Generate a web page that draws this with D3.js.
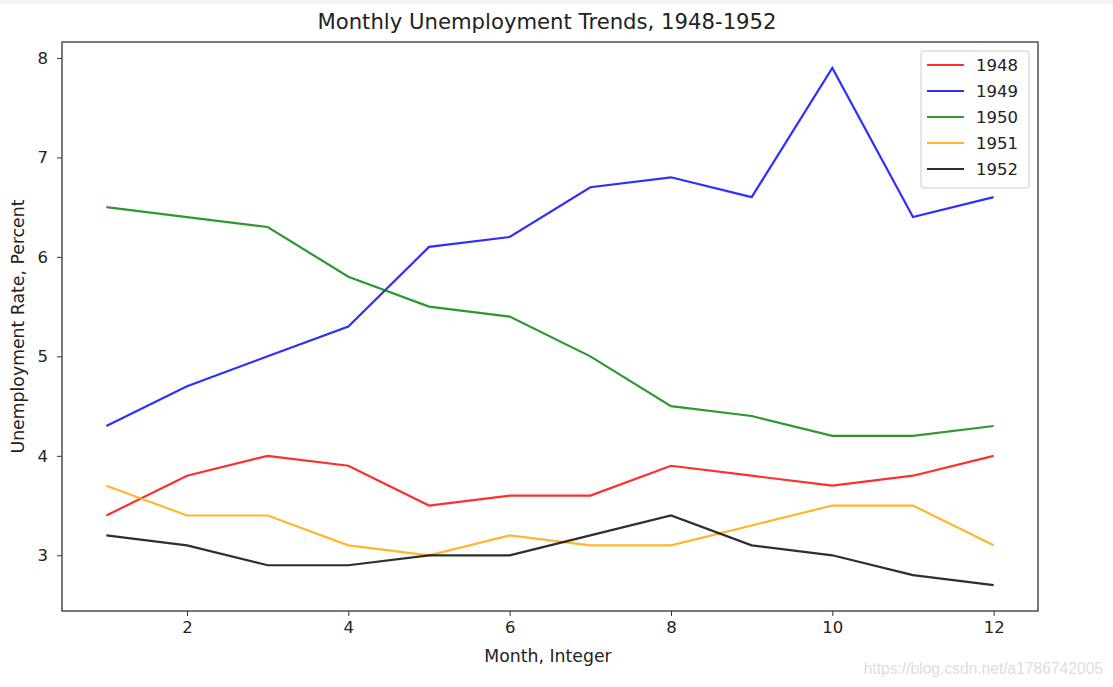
<!DOCTYPE html>
<html>
<head>
<meta charset="utf-8">
<script src="https://cdn.jsdelivr.net/npm/d3@7"></script>
<style>
  body { margin: 0; background: #fff; }
  svg { display: block; font-family: "DejaVu Sans", sans-serif; }
</style>
</head>
<body>
<svg id="chart" width="1113" height="687"></svg>
<script>
const months = [1, 2, 3, 4, 5, 6, 7, 8, 9, 10, 11, 12];
const years = ["1948", "1949", "1950", "1951", "1952"];
const rate1948 = [3.4, 3.8, 4.0, 3.9, 3.5, 3.6, 3.6, 3.9, 3.8, 3.7, 3.8, 4.0];
const rate1949 = [4.3, 4.7, 5.0, 5.3, 6.1, 6.2, 6.7, 6.8, 6.6, 7.9, 6.4, 6.6];
const rate1950 = [6.5, 6.4, 6.3, 5.8, 5.5, 5.4, 5.0, 4.5, 4.4, 4.2, 4.2, 4.3];
const rate1951 = [3.7, 3.4, 3.4, 3.1, 3.0, 3.2, 3.1, 3.1, 3.3, 3.5, 3.5, 3.1];
const rate1952 = [3.2, 3.1, 2.9, 2.9, 3.0, 3.0, 3.2, 3.4, 3.1, 3.0, 2.8, 2.7];
const colors = ["red", "blue", "green", "orange", "black"];
const xTicks = [2, 4, 6, 8, 10, 12];
const yTicks = [3, 4, 5, 6, 7, 8];

const series = [rate1948, rate1949, rate1950, rate1951, rate1952];

const svg = d3.select("#chart");
const pl = 62, pr = 1038, pt = 42, pb = 611;

const x = d3.scaleLinear().domain([0.45, 12.55]).range([pl, pr]);
const y = d3.scaleLinear().domain([2.44, 8.16]).range([pb, pt]);

// faint band at top of screenshot
svg.append("rect").attr("x", 0).attr("y", 0).attr("width", 1113).attr("height", 4).attr("fill", "#f4f4f4");

svg.append("text")
  .attr("x", 547).attr("y", 29)
  .attr("text-anchor", "middle")
  .attr("font-size", 21.2).attr("fill", "#222")
  .text("Monthly Unemployment Trends, 1948-1952");

const xAxis = svg.append("g")
  .attr("transform", `translate(0,${pb})`)
  .call(d3.axisBottom(x).tickValues(xTicks).tickSize(5).tickPadding(5));
const yAxis = svg.append("g")
  .attr("transform", `translate(${pl},0)`)
  .call(d3.axisLeft(y).tickValues(yTicks).tickFormat(d3.format("d")).tickSize(5).tickPadding(9));
[xAxis, yAxis].forEach(g => {
  g.select(".domain").remove();
  g.selectAll("line").attr("stroke", "#333");
  g.selectAll("text").attr("font-size", 16.5).attr("fill", "#222").attr("font-family", "DejaVu Sans");
});

const line = d3.line().x((d, i) => x(months[i])).y(d => y(d));
svg.append("g").selectAll("path").data(series).join("path")
  .attr("d", line)
  .attr("fill", "none")
  .attr("stroke", (d, i) => colors[i])
  .attr("stroke-opacity", 0.82)
  .attr("stroke-width", 2.2);

svg.append("rect")
  .attr("x", pl).attr("y", pt)
  .attr("width", pr - pl).attr("height", pb - pt)
  .attr("fill", "none").attr("stroke", "#333").attr("stroke-width", 1.3);

svg.append("text")
  .attr("x", 548).attr("y", 662)
  .attr("text-anchor", "middle").attr("font-size", 17.3).attr("fill", "#222")
  .text("Month, Integer");

svg.append("text")
  .attr("transform", `translate(24,${(pt + pb) / 2}) rotate(-90)`)
  .attr("text-anchor", "middle").attr("font-size", 17.3).attr("fill", "#222")
  .text("Unemployment Rate, Percent");

// legend
const lg = svg.append("g").attr("transform", "translate(921,51)");
lg.append("rect")
  .attr("width", 108).attr("height", 137).attr("rx", 3)
  .attr("fill", "#fff").attr("fill-opacity", 0.8)
  .attr("stroke", "#ccc");
years.forEach((yr, i) => {
  const yy = 14 + i * 26;
  lg.append("line")
    .attr("x1", 6).attr("x2", 43).attr("y1", yy).attr("y2", yy)
    .attr("stroke", colors[i]).attr("stroke-opacity", 0.82).attr("stroke-width", 2.2);
  lg.append("text")
    .attr("x", 55).attr("y", yy + 6)
    .attr("font-size", 16.5).attr("fill", "#222")
    .text(yr);
});

svg.append("text")
  .attr("x", 1103).attr("y", 674)
  .attr("text-anchor", "end").attr("font-size", 15.6)
  .attr("font-family", "Liberation Sans, sans-serif")
  .attr("fill", "#ddd")
  .text("https://blog.csdn.net/a1786742005");
</script>
</body>
</html>
